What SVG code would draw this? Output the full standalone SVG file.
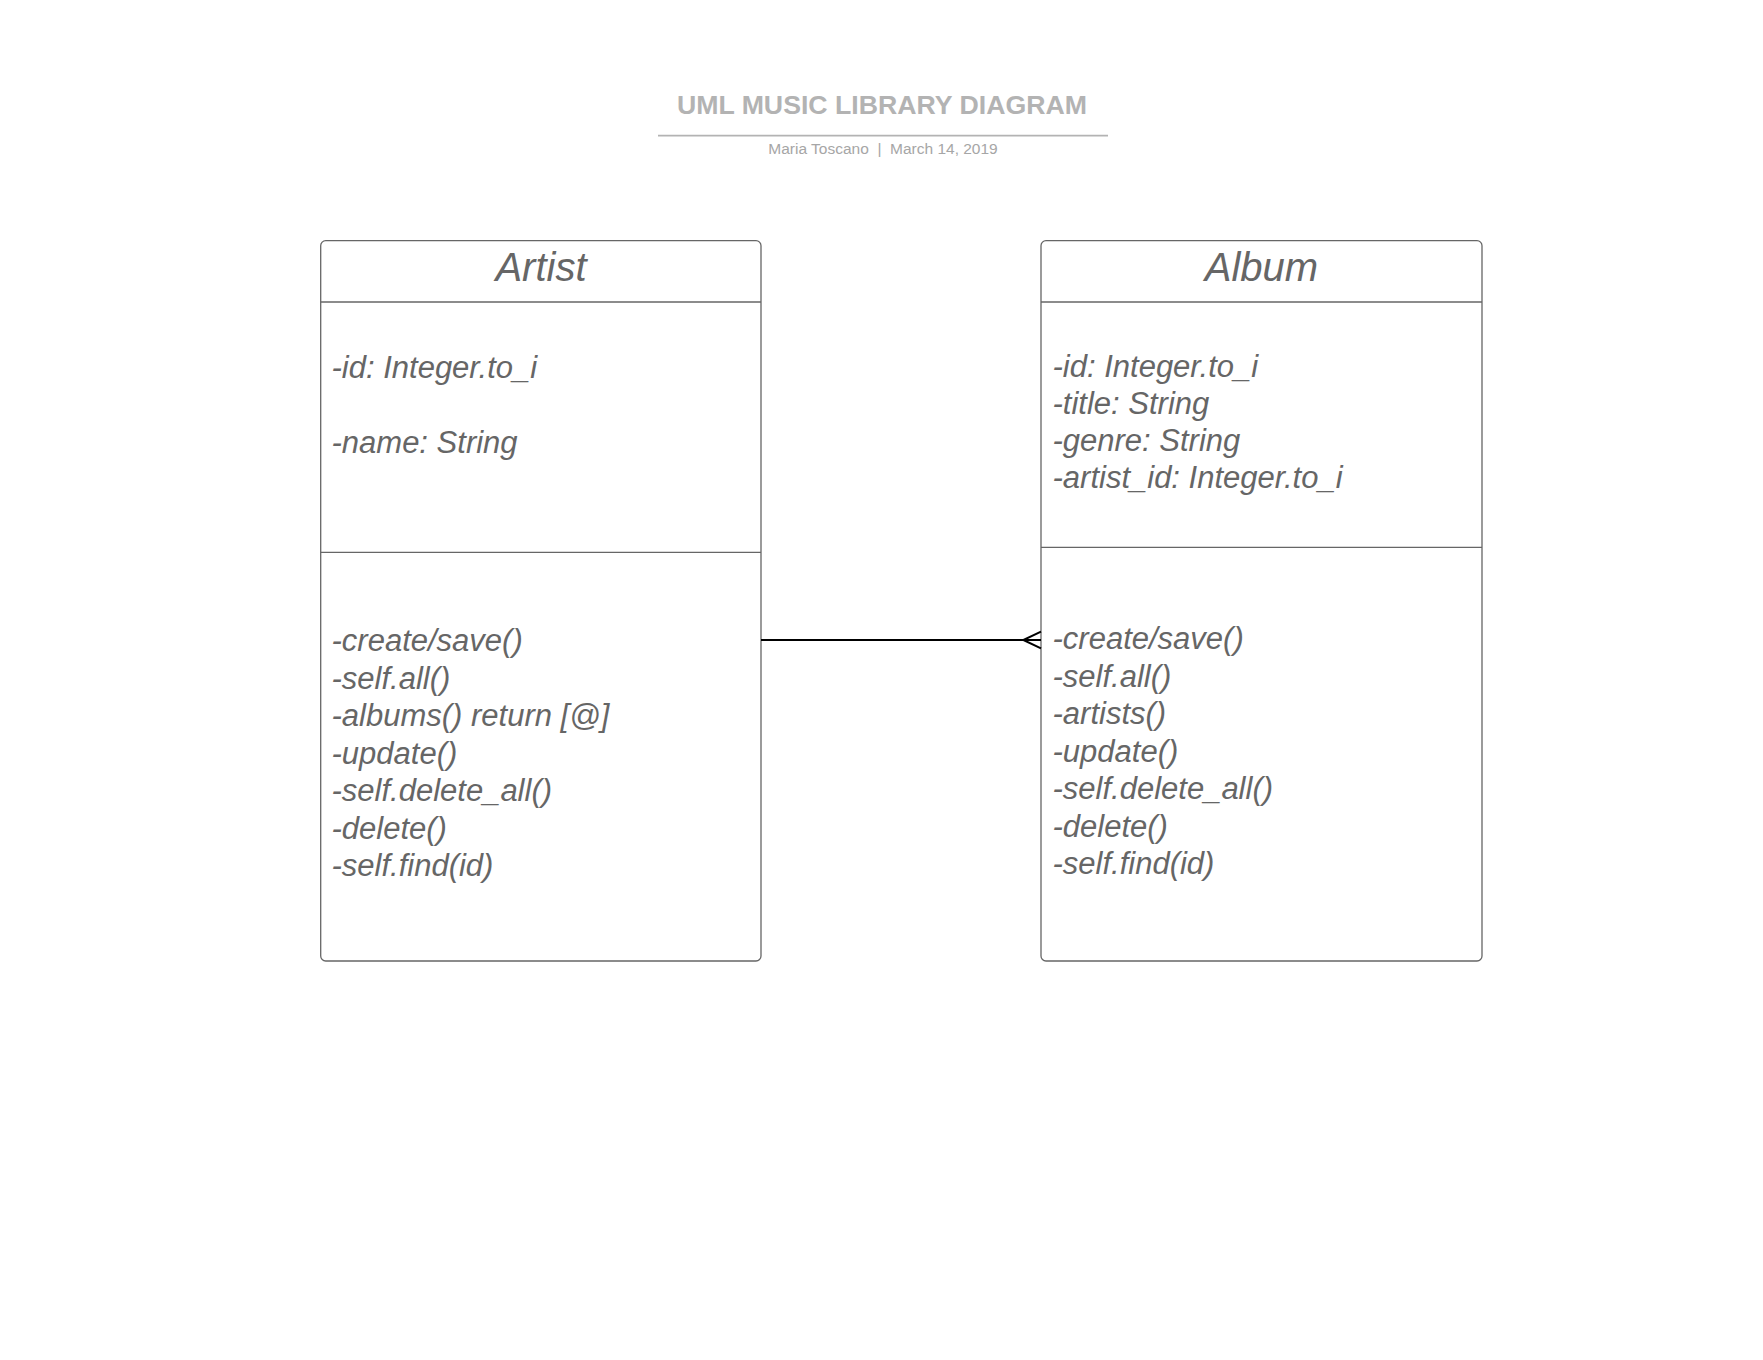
<svg xmlns="http://www.w3.org/2000/svg" width="1763" height="1360" viewBox="0 0 1763 1360">
<style>
.title{font-family:"Liberation Sans",Arial,sans-serif;font-weight:bold;font-size:26.7px;fill:#b3b3b3}
.sub{font-family:"Liberation Sans",Arial,sans-serif;font-size:15.5px;fill:#a6a6a6}
.box{fill:#ffffff;stroke:#666666;stroke-width:1.3}
.sep{stroke:#666666;stroke-width:1.3}
.hdr{font-family:"Liberation Sans",Arial,sans-serif;font-style:italic;font-size:40px;fill:#666666;text-anchor:middle}
.txt{font-family:"Liberation Sans",Arial,sans-serif;font-style:italic;font-size:31px;fill:#666666}
.conn{stroke:#000000;stroke-width:2;fill:none}
</style>
<rect width="1763" height="1360" fill="#ffffff"/>
<g id="header">
<text class="title" x="882" y="114" text-anchor="middle">UML MUSIC LIBRARY DIAGRAM</text>
<line x1="658" y1="135.7" x2="1108" y2="135.7" stroke="#b3b3b3" stroke-width="1.7"/>
<text class="sub" x="883" y="153.5" text-anchor="middle" xml:space="preserve">Maria Toscano  |  March 14, 2019</text>
</g>
<g id="artist">
<rect class="box" x="320.7" y="240.7" width="440.3" height="720.3" rx="5"/>
<line class="sep" x1="320.7" y1="302" x2="761" y2="302"/>
<line class="sep" x1="320.7" y1="552.3" x2="761" y2="552.3"/>
<text class="hdr" x="541" y="280.5">Artist</text>
<text class="txt" x="331.5" y="378">-id: Integer.to_i</text>
<text class="txt" x="331.5" y="452.5">-name: String</text>
<text class="txt" x="331.5" y="651">-create/save()</text>
<text class="txt" x="331.5" y="688.5">-self.all()</text>
<text class="txt" x="331.5" y="726">-albums() return [@]</text>
<text class="txt" x="331.5" y="763.5">-update()</text>
<text class="txt" x="331.5" y="801">-self.delete_all()</text>
<text class="txt" x="331.5" y="838.5">-delete()</text>
<text class="txt" x="331.5" y="876">-self.find(id)</text>
</g>
<g id="album">
<rect class="box" x="1041" y="240.7" width="441" height="720.3" rx="5"/>
<line class="sep" x1="1041" y1="302" x2="1482" y2="302"/>
<line class="sep" x1="1041" y1="547.3" x2="1482" y2="547.3"/>
<text class="hdr" x="1261.5" y="280.5">Album</text>
<text class="txt" x="1052.5" y="376.5">-id: Integer.to_i</text>
<text class="txt" x="1052.5" y="413.5">-title: String</text>
<text class="txt" x="1052.5" y="450.5">-genre: String</text>
<text class="txt" x="1052.5" y="487.5">-artist_id: Integer.to_i</text>
<text class="txt" x="1052.5" y="649">-create/save()</text>
<text class="txt" x="1052.5" y="686.5">-self.all()</text>
<text class="txt" x="1052.5" y="724">-artists()</text>
<text class="txt" x="1052.5" y="761.5">-update()</text>
<text class="txt" x="1052.5" y="799">-self.delete_all()</text>
<text class="txt" x="1052.5" y="836.5">-delete()</text>
<text class="txt" x="1052.5" y="874">-self.find(id)</text>
</g>
<g id="connectors">
<line class="conn" x1="761" y1="640" x2="1041" y2="640"/>
<polyline class="conn" points="1041,631.7 1023.3,640 1041,648.3"/>
</g>
</svg>
